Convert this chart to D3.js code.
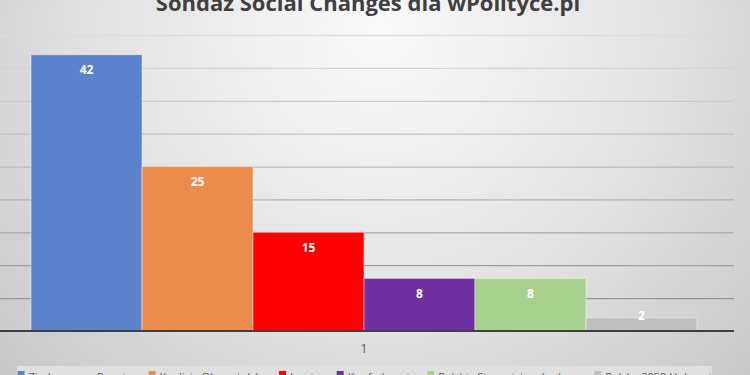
<!DOCTYPE html>
<html>
<head>
<meta charset="utf-8">
<script src="https://cdn.jsdelivr.net/npm/d3@7"></script>
<style>
  html, body { margin: 0; padding: 0; background: #d0d0d0; }
  svg { display: block; font-family: "Open Sans", "Liberation Sans", sans-serif; }
</style>
</head>
<body>
<div id="chart"></div>
<script>
const title = "Sondaż Social Changes dla wPolityce.pl";
const categories = ["1"];
const parties = ["Zjednoczona Prawica", "Koalicja Obywatelska", "Lewica", "Konfederacja", "Polskie Stronnictwo Ludowe", "Polska 2050 Hołowni"];
const values = [42, 25, 15, 8, 8, 2];
const colors = ["#5b83cb", "#eb8c4c", "#ff0000", "#7030a0", "#a9d18e", "#bfbfbf"];
const yTicks = [0, 5, 10, 15, 20, 25, 30, 35, 40, 45];

const svgWidth = 750;
const svgHeight = 375;
const plot = {left: -6, right: 734, top: 35, bottom: 331};

const svg = d3.select("#chart")
    .append("svg")
        .attr("width", svgWidth)
        .attr("height", svgHeight);

// background
const defs = svg.append("defs");
const bg = defs.append("radialGradient")
    .attr("id", "bg")
    .attr("gradientUnits", "userSpaceOnUse")
    .attr("cx", 380).attr("cy", 30).attr("r", 520);
bg.append("stop").attr("offset", "0%").attr("stop-color", "#fafafa");
bg.append("stop").attr("offset", "55%").attr("stop-color", "#e2e2e2");
bg.append("stop").attr("offset", "100%").attr("stop-color", "#c6c6c6");

svg.append("rect")
    .attr("width", svgWidth).attr("height", svgHeight)
    .attr("fill", "url(#bg)");

// scales
const yScale = d3.scaleLinear()
    .domain([0, 45])
    .range([plot.bottom, plot.top]);

const x0 = d3.scaleBand()
    .domain(categories)
    .range([plot.left, plot.right])
    .paddingInner(0)
    .paddingOuter(0.0556);

const x1 = d3.scaleBand()
    .domain(parties)
    .range([0, x0.bandwidth()]);

// gridlines
const gridColor = d3.scaleLinear()
    .domain([45, 0])
    .range(["#dcdcdc", "#8c8c8c"]);

svg.append("g")
    .attr("transform", `translate(${plot.right}, 0)`)
    .call(d3.axisRight(yScale).tickValues(yTicks.filter(d => d > 0)).tickSize(-plot.right).tickFormat(""))
    .call(g => g.select(".domain").remove())
    .call(g => g.selectAll(".tick line")
        .attr("stroke", d => gridColor(d))
        .attr("stroke-width", 1.3));

// bars
const group = svg.append("g")
    .attr("transform", `translate(${x0(categories[0])}, 0)`);

group.selectAll("rect")
    .data(values)
    .join("rect")
        .attr("x", (d, i) => x1(parties[i]))
        .attr("y", d => yScale(d))
        .attr("width", x1.bandwidth())
        .attr("height", d => yScale(0) - yScale(d))
        .attr("fill", (d, i) => colors[i])
        .attr("stroke", "rgba(255,255,255,0.45)")
        .attr("stroke-width", 1);

group.selectAll("text.value")
    .data(values)
    .join("text")
        .attr("class", "value")
        .attr("x", (d, i) => x1(parties[i]) + x1.bandwidth() / 2)
        .attr("y", d => {
            const top = yScale(d);
            return (yScale(0) - top) > 25 ? top + 15 : top - 2;
        })
        .attr("dy", "0.35em")
        .attr("text-anchor", "middle")
        .attr("fill", "#ffffff")
        .attr("font-size", 12)
        .attr("font-weight", "bold")
        .text(d => d);

// x axis
svg.append("line")
    .attr("x1", 0).attr("x2", plot.right)
    .attr("y1", yScale(0)).attr("y2", yScale(0))
    .attr("stroke", "#404040")
    .attr("stroke-width", 2);

svg.append("text")
    .attr("x", x0(categories[0]) + x0.bandwidth() / 2)
    .attr("y", 349)
    .attr("dy", "0.35em")
    .attr("text-anchor", "middle")
    .attr("fill", "#595959")
    .attr("font-size", 12)
    .text(categories[0]);

// title
svg.append("text")
    .attr("x", 368)
    .attr("y", 11)
    .attr("text-anchor", "middle")
    .attr("fill", "#404040")
    .attr("font-size", 22)
    .attr("font-weight", "bold")
    .text(title);

// legend
svg.append("rect")
    .attr("x", 17).attr("y", 366)
    .attr("width", 695).attr("height", 20)
    .attr("fill", "#e0e0e0");

const legend = svg.append("g");
let lx = 0;
parties.forEach((p, i) => {
    const item = legend.append("g").attr("transform", `translate(${lx}, 0)`);
    item.append("rect")
        .attr("x", 0).attr("y", 371)
        .attr("width", 7).attr("height", 7)
        .attr("fill", colors[i]);
    const t = item.append("text")
        .attr("x", 11).attr("y", 381)
        .attr("fill", "#595959")
        .attr("font-size", 11)
        .text(p);
    lx += 11 + t.node().getComputedTextLength() + 12;
});
legend.attr("transform", `translate(${(17 + 712 - (lx - 12)) / 2}, 0)`);
</script>
</body>
</html>
